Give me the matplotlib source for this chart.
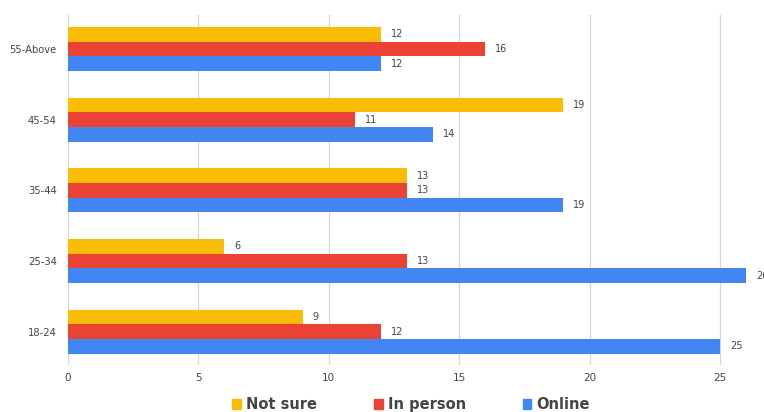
import matplotlib
matplotlib.use("Agg")
import matplotlib.pyplot as plt
import numpy as np
from matplotlib.patches import Patch

categories = ["18-24", "25-34", "35-44", "45-54", "55-Above"]
series_names = ["Not sure", "In person", "Online"]
not_sure = [9, 6, 13, 19, 12]
in_person = [12, 13, 13, 11, 16]
online = [25, 26, 19, 14, 12]
x_ticks = [0, 5, 10, 15, 20, 25]

colors = ["#FBBC04", "#EA4335", "#4285F4"]
text_color = "#444444"

fig = plt.figure(figsize=(7.64, 4.12), dpi=100)
ax = fig.add_axes([68 / 764, 47 / 412, (746 - 68) / 764, 350 / 412])

y = np.arange(len(categories))
h = 0.207
offsets = [h, 0, -h]
for vals, off, c in zip([not_sure, in_person, online], offsets, colors):
    ax.barh(y + off, vals, height=h, color=c, zorder=3)
    for yi, v in zip(y, vals):
        ax.text(v + 0.38, yi + off, str(v), va="center", ha="left",
                fontsize=7, color=text_color, clip_on=False)

ax.set_xlim(0, 26)
ax.set_ylim(-0.47, 4.48)
ax.set_xticks(x_ticks)
ax.set_xticklabels([str(t) for t in x_ticks], fontsize=7.5, color=text_color)
ax.set_yticks(y)
ax.set_yticklabels(categories, fontsize=7.2, color=text_color)
ax.tick_params(length=0)
ax.tick_params(axis="y", pad=8)
ax.tick_params(axis="x", pad=6)
ax.grid(axis="x", color="#d6d6d6", linewidth=0.9, zorder=0)
for s in ax.spines.values():
    s.set_visible(False)

handles = [Patch(color=c) for c in colors]
leg = fig.legend(handles, series_names, loc="center", ncol=3,
                 bbox_to_anchor=(0.538, 0.018), frameon=False,
                 handlelength=0.6, handleheight=0.6, handletextpad=0.35,
                 columnspacing=3.9,
                 prop={"weight": "bold", "size": 10.5})
for t in leg.get_texts():
    t.set_color(text_color)

fig.savefig("out.png", dpi=100)
